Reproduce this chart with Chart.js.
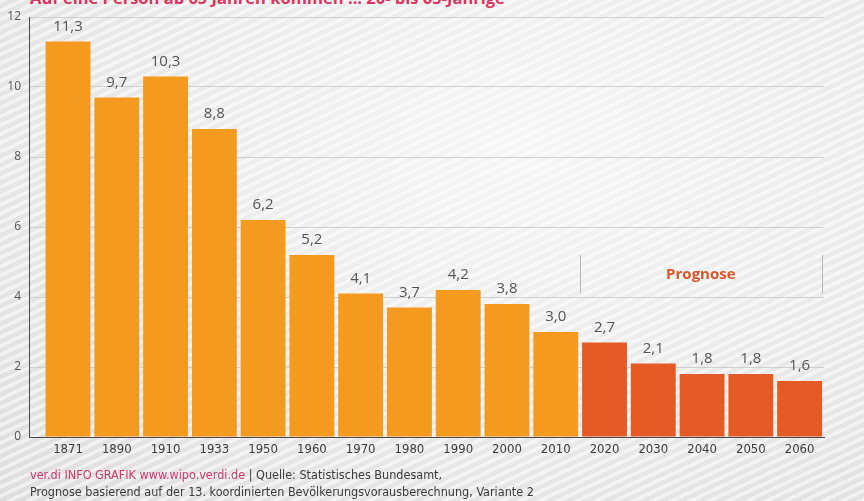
<!DOCTYPE html>
<html lang="de">
<head>
<meta charset="utf-8">
<title>Auf eine Person ab 65 Jahren kommen ... 20- bis 65-Jährige</title>
<script src="https://cdn.jsdelivr.net/npm/chart.js@4.4.1/dist/chart.umd.min.js"></script>
<style>
  html, body {
    margin: 0;
    padding: 0;
    width: 864px;
    height: 501px;
    overflow: hidden;
  }
  body {
    position: relative;
    background:
      repeating-linear-gradient(155deg, rgba(255,255,255,0.55) 0px, rgba(255,255,255,0.55) 3px, rgba(255,255,255,0) 4px, rgba(255,255,255,0) 8px),
      radial-gradient(ellipse at 60% 30%, #f6f6f6 0%, #ececec 45%, #dedede 100%);
  }
  #chart {
    position: absolute;
    left: 0;
    top: 0;
  }
  .title {
    position: absolute;
    left: 30px;
    top: -11px;
    font: bold 16.5px "Open Sans", sans-serif;
    line-height: 17px;
    color: #d9355f;
    white-space: nowrap;
  }
  .footer {
    position: absolute;
    left: 30px;
    top: 466px;
    font: 12.5px "Liberation Sans Narrow", "DejaVu Sans Condensed", sans-serif;
    line-height: 17px;
    color: #3a3a3a;
    white-space: nowrap;
  }
  .footer .brand {
    color: #cf3a6e;
  }
</style>
</head>
<body>
<div class="title">Auf eine Person ab 65 Jahren kommen ... 20- bis 65-Jährige</div>
<canvas id="chart" width="864" height="501"></canvas>
<div class="footer">
  <span class="brand">ver.di INFO GRAFIK www.wipo.verdi.de</span> | Quelle: Statistisches Bundesamt,<br>
  Prognose basierend auf der 13. koordinierten Bevölkerungsvorausberechnung, Variante 2
</div>
<script>
(() => {
  'use strict';

  // data
  const years = ['1871', '1890', '1910', '1933', '1950', '1960', '1970', '1980',
    '1990', '2000', '2010', '2020', '2030', '2040', '2050', '2060'];
  const ratio = [11.3, 9.7, 10.3, 8.8, 6.2, 5.2, 4.1, 3.7, 4.2, 3.8, 3.0, 2.7, 2.1, 1.8, 1.8, 1.6];
  const forecastFrom = 11; // first bar of the "Prognose"
  const yTicks = [0, 2, 4, 6, 8, 10, 12];
  const forecastLabel = 'Prognose';

  const colorPast = '#f39a1f';
  const colorForecast = '#e65a25';

  const formatValue = (v) => v.toFixed(1).replace('.', ',');

  /**
   * Draws the value labels above the bars and the "Prognose" bracket
   */
  const annotations = {
    id: 'annotations',
    afterDatasetsDraw(chart) {
      const ctx = chart.ctx;
      const meta = chart.getDatasetMeta(0);
      const xScale = chart.scales.x;
      const yScale = chart.scales.y;

      ctx.save();
      ctx.fillStyle = '#555';
      ctx.font = '15px "Open Sans", sans-serif';
      ctx.textAlign = 'center';
      ctx.textBaseline = 'middle';
      meta.data.forEach((bar, i) => {
        ctx.fillText(formatValue(ratio[i]), bar.x, bar.y - 15);
      });

      // bracket
      const left = xScale.getPixelForValue(forecastFrom - 0.5);
      const right = xScale.getPixelForValue(years.length - 0.55);
      const top = yScale.getPixelForValue(5.2);
      const bottom = yScale.getPixelForValue(4.1);
      ctx.strokeStyle = '#b5b5b5';
      ctx.lineWidth = 1;
      ctx.beginPath();
      ctx.moveTo(Math.round(left) + 0.5, top);
      ctx.lineTo(Math.round(left) + 0.5, bottom);
      ctx.moveTo(Math.round(right) + 0.5, top);
      ctx.lineTo(Math.round(right) + 0.5, bottom);
      ctx.stroke();

      ctx.fillStyle = '#d8582b';
      ctx.font = 'bold 15px "Open Sans", sans-serif';
      ctx.fillText(forecastLabel, (left + right) / 2, (top + bottom) / 2);
      ctx.restore();
    }
  };

  const ctx = document.getElementById('chart').getContext('2d');
  new Chart(ctx, {
    type: 'bar',
    data: {
      datasets: [{
        data: ratio.map((v, i) => ({ x: i, y: v })),
        backgroundColor: ratio.map((v, i) => i >= forecastFrom ? colorForecast : colorPast),
        borderWidth: 0,
        barPercentage: 0.92,
        categoryPercentage: 1
      }]
    },
    options: {
      responsive: false,
      animation: false,
      devicePixelRatio: 1,
      layout: { padding: { top: 17, right: 40, left: 0, bottom: 0 } },
      plugins: {
        legend: { display: false },
        tooltip: { enabled: false },
        title: { display: false }
      },
      scales: {
        x: {
          type: 'linear',
          offset: false,
          min: -0.8,
          max: years.length - 0.5,
          grid: { display: false, drawTicks: false, offset: false },
          border: { color: '#4a4a4a', width: 1 },
          afterBuildTicks: (scale) => {
            scale.ticks = years.map((y, i) => ({ value: i }));
          },
          afterFit: (scale) => { scale.height = 64; },
          ticks: {
            autoSkip: false,
            maxRotation: 0,
            padding: 5,
            color: '#3c3c3c',
            font: { family: '"Liberation Sans Narrow", "DejaVu Sans Condensed", sans-serif', size: 13 },
            callback: (value) => years[value] !== undefined ? years[value] : ''
          }
        },
        y: {
          min: 0,
          max: 12,
          afterBuildTicks: (scale) => {
            scale.ticks = yTicks.map((v) => ({ value: v }));
          },
          afterFit: (scale) => { scale.width = 29; },
          grid: { color: '#cfcfcf', lineWidth: 1, drawTicks: false },
          border: { color: '#4a4a4a', width: 1 },
          ticks: {
            padding: 8,
            color: '#555',
            font: { family: '"Open Sans", sans-serif', size: 12 }
          }
        }
      }
    },
    plugins: [annotations]
  });
})();
</script>
</body>
</html>
